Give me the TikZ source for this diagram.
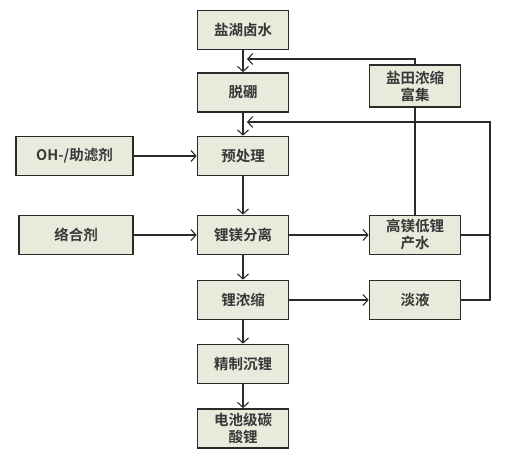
\documentclass[tikz,border=0pt]{standalone}
\usepackage{fontspec}
\setmainfont{Noto Sans CJK SC}[BoldFont={Noto Sans CJK SC Bold}]
\usetikzlibrary{arrows.meta}
\definecolor{boxfill}{HTML}{EAEADC}
\definecolor{linecol}{HTML}{2A2A2A}
\begin{document}
\begin{tikzpicture}[x=1pt,y=-1pt,
  box/.style={draw=linecol, line width=1.7pt, fill=boxfill, minimum width=91pt, minimum height=39pt, inner sep=0pt, align=center, font=\fontsize{14.5}{17}\selectfont\bfseries, text=black!78},
  arr/.style={-{Straight Barb[length=5pt,width=11pt]}, line width=1.1pt, draw=linecol},
  ln/.style={line width=1.1pt, draw=linecol}]
\useasboundingbox (0,0) rectangle (509,458);
\node[box] (salt) at (243,30) {盐湖卤水};
\node[box] (tp) at (243,92.5) {脱硼};
\node[box] (ycl) at (243,156) {预处理};
\node[box] (lm) at (243,235) {锂镁分离};
\node[box] (ln) at (243,300) {锂浓缩};
\node[box] (jz) at (243,364) {精制沉锂};
\node[box] (dc) at (243,428.5) {电池级碳\\酸锂};
\node[box, minimum height=42pt] (yt) at (415,86) {盐田浓缩\\富集};
\node[box] (gm) at (415,235) {高镁低锂\\产水};
\node[box] (dy) at (415,300) {淡液};
\node[box, minimum width=117pt] (oh) at (74.5,156) {OH-/助滤剂};
\node[box, minimum width=114pt] (lh) at (76,235) {络合剂};
\coordinate (f1) at (247,59);
\coordinate (f2) at (247,122);
\coordinate (r1) at (490,235);
\coordinate (r2) at (490,122);
\draw[arr] (salt) -- (tp);
\draw[arr] (tp) -- (ycl);
\draw[arr] (ycl) -- (lm);
\draw[arr] (lm) -- (ln);
\draw[arr] (ln) -- (jz);
\draw[arr] (jz) -- (dc);
\draw[arr] (oh) -- (ycl);
\draw[arr] (lh) -- (lm);
\draw[arr] (lm) -- (gm);
\draw[arr] (ln) -- (dy);
\draw[ln] (gm) -- (yt);
\draw[arr] (yt.north) |- (f1);
\draw[ln] (gm.east) -- (r1);
\draw[arr] (dy.east) -| (r2) -- (f2);
\end{tikzpicture}
\end{document}
